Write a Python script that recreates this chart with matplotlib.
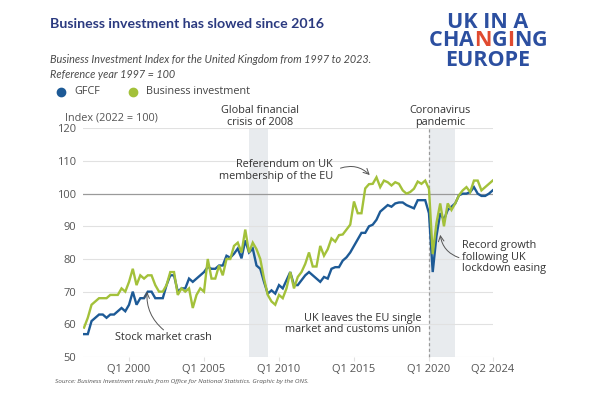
import matplotlib
matplotlib.use("Agg")
import matplotlib.pyplot as plt
from matplotlib.lines import Line2D
import numpy as np

plt.rcParams['font.family'] = ['Open Sans', 'DejaVu Sans']

# ---- data (quarterly, 1997 Q1 .. 2024 Q2) ----
start_year = 1997
gfcf = [57, 57, 61, 62, 63, 63, 62, 63, 63, 64, 65, 64,
        66, 70, 66, 68, 68, 70, 70, 68, 68, 68, 72, 75,
        75, 70, 71, 71, 74, 73, 74, 75, 76, 77.6, 77, 77,
        78, 78, 81, 80.4, 81.6, 83.2, 80.2, 85.7, 82, 83.2, 78, 77,
        73, 69.4, 70.4, 69.4, 72, 71, 73.5, 76, 72, 72, 73.5, 75,
        76, 75, 74, 73, 74.5, 74, 77, 77.5, 77.5, 79.5, 80.5, 82,
        84, 86, 88, 88, 90, 90.5, 92, 94.5, 95.5, 96.5, 96, 97,
        97.3, 97.3, 96.5, 96, 95.5, 98, 98, 98, 94, 76, 87, 94,
        92, 95, 96, 97, 99.5, 100, 100, 100.5, 102, 100, 99.3, 99.3,
        100, 101]
business = [59, 62, 66, 67, 68, 68, 68, 69, 69, 69, 71, 70,
            73, 77, 72, 75, 74, 75, 75, 72, 70, 70, 72, 76,
            76, 69, 71, 70, 71, 65, 69, 71, 70, 80, 74, 74,
            78, 75, 80, 80, 84, 85, 82, 89, 82, 85, 83, 80,
            74, 69, 67, 66, 69, 68, 71, 76, 71, 74.5, 76, 78.5,
            82, 77.7, 77.7, 84, 81, 83, 86.3, 85.3, 87.3, 87.5, 89, 90.5,
            97.6, 94, 94, 101.6, 102.9, 103, 105, 102, 104, 103.5, 102.5, 103.5,
            103, 101, 100, 100.5, 101.5, 103.7, 103, 104, 101.5, 81.5, 91, 97,
            90, 97, 95, 97, 99.5, 101, 102, 100.5, 104, 104, 101, 102,
            103, 104]
xtick_pos = [2000, 2005, 2010, 2015, 2020, 2024.25]
xtick_labels = ["Q1 2000", "Q1 2005", "Q1 2010", "Q1 2015", "Q1 2020", "Q2 2024"]
yticks = [50, 60, 70, 80, 90, 100, 110, 120]
shades = [(2008.0, 2009.25), (2020.0, 2021.75)]

t = start_year + np.arange(len(gfcf)) / 4.0

W, H = 601, 398
fig = plt.figure(figsize=(W / 100, H / 100), dpi=100)
fig.patch.set_facecolor("white")

def fx(px):
    return px / W

def fy(py):
    return 1 - py / H

ax = fig.add_axes([fx(83), fy(357), fx(493) - fx(83), fy(128.3) - fy(357)])
ax.set_xlim(1996.93, 2024.27)
ax.set_ylim(50, 120)

BLUE = "#1d5a96"
GREEN = "#a3c13a"
TXT = "#333333"
GRID = "#e1e1e1"

for s0, s1 in shades:
    ax.axvspan(s0, s1, color="#e8ebee", lw=0, zorder=0)

for y in yticks:
    if y == 100:
        ax.axhline(y, color="#9a9a9a", lw=0.9, zorder=1)
    else:
        ax.axhline(y, color=GRID, lw=0.8, zorder=1)

ax.plot([2020.0, 2020.0], [50, 120], color="#9a9a9a", lw=0.9,
        ls=(0, (2.5, 2)), zorder=1, clip_on=False)

ax.plot(t, gfcf, color=BLUE, lw=1.7, zorder=3, solid_joinstyle="miter")
ax.plot(t, business, color=GREEN, lw=1.7, zorder=4, solid_joinstyle="miter")

for sp in ax.spines.values():
    sp.set_visible(False)
ax.set_xticks(xtick_pos)
ax.set_xticklabels(xtick_labels)
ax.set_yticks(yticks)
ax.set_yticklabels([str(v) for v in yticks])
ax.tick_params(axis="x", length=3, color=GRID, labelsize=8, labelcolor="#555555", pad=2)
ax.tick_params(axis="y", length=0, labelsize=8, labelcolor="#555555", pad=5)
ax.set_facecolor("white")

# ---- annotations ----
ann = dict(fontsize=7.8, color=TXT, linespacing=1.05)
ax.text(2008.73, 123.6, "Global financial\ncrisis of 2008", ha="center", va="center", **ann)
ax.text(2020.75, 123.6, "Coronavirus\npandemic", ha="center", va="center", **ann)
ax.text(2013.6, 107.1, "Referendum on UK\nmembership of the EU", ha="right", va="center", **ann)
ax.text(2002.27, 55.9, "Stock market crash", ha="center", va="center", **ann)
ax.text(2022.2, 80.5, "Record growth\nfollowing UK\nlockdown easing", ha="left", va="center", **ann)
ax.text(2019.5, 60.1, "UK leaves the EU single\nmarket and customs union", ha="right", va="center", **ann)

arrow = dict(arrowstyle="->", color="#555555", lw=0.7, shrinkA=0, shrinkB=0)
ax.annotate("", xy=(2016.05, 105.7), xytext=(2014.1, 107.8),
            arrowprops=dict(connectionstyle="arc3,rad=-0.3", **arrow))
ax.annotate("", xy=(2001.2, 70.0), xytext=(2002.3, 58.3),
            arrowprops=dict(connectionstyle="arc3,rad=-0.25", **arrow))
ax.annotate("", xy=(2020.75, 87.4), xytext=(2022.0, 80.4),
            arrowprops=dict(connectionstyle="arc3,rad=-0.3", **arrow))

# ---- header ----
fig.text(fx(50), fy(23.5), "Business investment has slowed since 2016", fontsize=10.2,
         fontweight="bold", family=["Lato", "DejaVu Sans"], color="#2b3a80", va="center", ha="left")
sub = dict(fontsize=7.8, style="italic", color="#4a4a4a", va="center", ha="left",
           family=["Lato", "DejaVu Sans"])
fig.text(fx(50), fy(59.7), "Business Investment Index for the United Kingdom from 1997 to 2023.", **sub)
fig.text(fx(50), fy(74.5), "Reference year 1997 = 100", **sub)

fig.add_artist(Line2D([fx(61)], [fy(91.5)], marker="o", ms=6, color=BLUE, transform=fig.transFigure))
fig.text(fx(74), fy(91.5), "GFCF", fontsize=7.8, color="#444444", va="center")
fig.add_artist(Line2D([fx(133)], [fy(91.5)], marker="o", ms=6, color=GREEN, transform=fig.transFigure))
fig.text(fx(146), fy(91.5), "Business investment", fontsize=7.8, color="#444444", va="center")

fig.text(fx(65), fy(118), "Index (2022 = 100)", fontsize=7.8, color="#555555", va="center")

fig.text(fx(55), fy(382), "Source: Business Investment results from Office for National Statistics. Graphic by the ONS.",
         fontsize=4.6, style="italic", color="#555555", va="center")

# ---- logo ----
LB = "#2c4fa0"
LR = "#e04a2f"
LFS = 15.5
fig.text(fx(488), fy(22), "UK IN A", fontsize=LFS, fontweight="bold", color=LB, ha="center", va="center")
fig.text(fx(488), fy(60), "EUROPE", fontsize=LFS, fontweight="bold", color=LB, ha="center", va="center")
letters = list("CHANGING")
colors = [LB, LB, LB, LR, LB, LR, LB, LB]
renderer = fig.canvas.get_renderer()
widths = []
for ch in letters:
    tt = fig.text(0, 0, ch, fontsize=LFS, fontweight="bold")
    widths.append(tt.get_window_extent(renderer).width)
    tt.remove()
x0 = 488 - sum(widths) / 2
for ch, c, w in zip(letters, colors, widths):
    fig.text(fx(x0), fy(41), ch, fontsize=LFS, fontweight="bold", color=c, ha="left", va="center")
    x0 += w

fig.savefig("out.png", dpi=100)
